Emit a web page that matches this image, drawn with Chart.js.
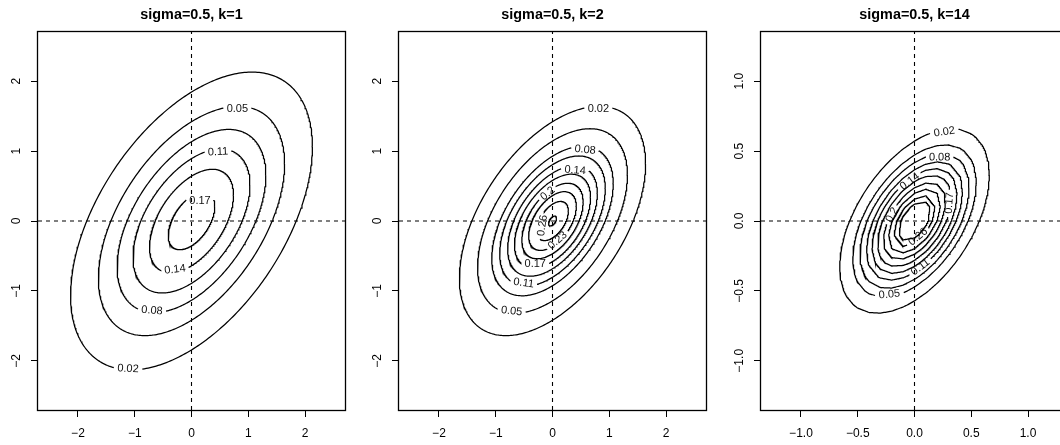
<!DOCTYPE html>
<html><head><meta charset="utf-8">
<script src="https://cdn.jsdelivr.net/npm/chart.js@4.4.0/dist/chart.umd.min.js"></script>
<style>
html,body{margin:0;padding:0;background:#fff;overflow:hidden;}
#wrap{position:relative;width:1060px;height:445px;overflow:hidden;background:#fff;}
.panel{position:absolute;top:0;width:361px;height:445px;}
</style></head><body>
<div id="wrap">
<div class="panel" style="left:0px"><canvas id="c1"></canvas></div>
<div class="panel" style="left:361px"><canvas id="c2"></canvas></div>
<div class="panel" style="left:723px"><canvas id="c3"></canvas></div>
</div>
<script>
// ---------- data ----------
const TITLES = ["sigma=0.5, k=1", "sigma=0.5, k=2", "sigma=0.5, k=14"];
const CORRELATION = 0.5;

const LEVELS_K1 = [0.02, 0.05, 0.08, 0.11, 0.14, 0.17];
const HALFWIDTH_K1 = [2.13, 1.64, 1.31, 1.03, 0.74, 0.41];      // max |x| of each contour
const LABEL_AT_K1 = [238, 60, 237, 62, 245, 60];                // position of label along contour (deg)

const LEVELS_K2 = [0.02, 0.05, 0.08, 0.11, 0.14, 0.17, 0.2, 0.23, 0.26, 0.29];
const HALFWIDTH_K2 = [1.64, 1.32, 1.07, 0.93, 0.79, 0.67, 0.54, 0.42, 0.28, 0.07];
const LABEL_AT_K2 = [60, 236, 56, 235, 57, 240, 100, 283, 170, null];

const LEVELS_K14 = [0.02, 0.05, 0.08, 0.11, 0.14, 0.17, 0.2, 0.23, 0.26, 0.29];
const HALFWIDTH_K14 = [0.66, 0.545, 0.482, 0.423, 0.375, 0.325, 0.274, 0.228, 0.181, 0.14];
const LABEL_AT_K14 = [66, 245, 61, 277, 97, 355, 140, null, 281, null];

const AXIS_LIMITS = [2.704, 2.704, 1.352];
const GRID_STEPS = [0, 0, 0.1];   // 0 = smooth contour, otherwise coarse evaluation grid

const TICKS_K1 = [-2, -1, 0, 1, 2];
const TICK_LABELS_K1 = ["\u22122", "\u22121", "0", "1", "2"];
const TICKS_K14 = [-1, -0.5, 0, 0.5, 1];
const TICK_LABELS_K14 = ["\u22121.0", "\u22120.5", "0.0", "0.5", "1.0"];

// ---------- styling ----------
const FONT_FAMILY = '"Liberation Sans", Arial, Helvetica, sans-serif';
const LABEL_FONT = '11px ' + FONT_FAMILY;
const LABEL_GAP_PAD = 6;
const Y_LABEL_OFFSET = [21, 21, 21];
const LINE_W = 1.25;

const PANELS = [
  {id: 'c1', title: TITLES[0], levels: LEVELS_K1, half: HALFWIDTH_K1, labelAt: LABEL_AT_K1, lim: AXIS_LIMITS[0], step: GRID_STEPS[0], ticks: TICKS_K1, tickLabels: TICK_LABELS_K1, yoff: Y_LABEL_OFFSET[0]},
  {id: 'c2', title: TITLES[1], levels: LEVELS_K2, half: HALFWIDTH_K2, labelAt: LABEL_AT_K2, lim: AXIS_LIMITS[1], step: GRID_STEPS[1], ticks: TICKS_K1, tickLabels: TICK_LABELS_K1, yoff: Y_LABEL_OFFSET[1]},
  {id: 'c3', title: TITLES[2], levels: LEVELS_K14, half: HALFWIDTH_K14, labelAt: LABEL_AT_K14, lim: AXIS_LIMITS[2], step: GRID_STEPS[2], ticks: TICKS_K14, tickLabels: TICK_LABELS_K14, yoff: Y_LABEL_OFFSET[2]}
];

const S = Math.sqrt(1 - CORRELATION * CORRELATION);
function ellipseAt(a, t) {
  return {x: a * Math.cos(t), y: a * (CORRELATION * Math.cos(t) + S * Math.sin(t))};
}
function norm(t) { const tp = 2 * Math.PI; t = t % tp; return t < 0 ? t + tp : t; }

// contour of one level: smooth ellipse, or polygon through crossings with a coarse grid
function contourPoints(a, step) {
  const N = 360, out = [];
  if (!step) {
    for (let i = 0; i <= N; i++) out.push(ellipseAt(a, i * 2 * Math.PI / N));
    return out;
  }
  const phi = Math.atan2(S, CORRELATION);
  let ts = [];
  const kmax = Math.floor(a / step);
  for (let k = -kmax; k <= kmax; k++) {
    const c = k * step;
    if (Math.abs(c) >= a) continue;
    const d = Math.acos(c / a);
    ts.push(norm(d), norm(-d), norm(phi + d), norm(phi - d));
  }
  ts.sort((p, q) => p - q);
  ts = ts.filter((v, i) => i === 0 || v - ts[i - 1] > 1e-6);
  const V = ts.map(t => ellipseAt(a, t));
  const m = ts.length;
  for (let i = 0; i <= N; i++) {
    const t = (i % N) * 2 * Math.PI / N;
    let j = m - 1;
    for (let q = 0; q < m; q++) { if (ts[q] <= t) j = q; }
    if (ts[0] > t) j = m - 1;
    const j1 = (j + 1) % m;
    let t0 = ts[j], t1 = ts[j1], tt = t;
    if (t1 <= t0) t1 += 2 * Math.PI;
    if (tt < t0) tt += 2 * Math.PI;
    const f = (tt - t0) / (t1 - t0);
    out.push({x: V[j].x + f * (V[j1].x - V[j].x), y: V[j].y + f * (V[j1].y - V[j].y)});
  }
  return out;
}

function segColor(ctx) {
  const ds = ctx.chart.data.datasets[ctx.datasetIndex];
  const g = ds && ds._gap;
  if (g && ((ctx.p0DataIndex - g.start + g.n) % g.n) < g.len) return 'rgba(0,0,0,0)';
  return '#000';
}

function makePlugin(p) {
  return {
    id: 'rstyle',
    afterDatasetsUpdate(chart) {
      const ctx = chart.ctx;
      ctx.save();
      ctx.font = LABEL_FONT;
      chart.data.datasets.forEach((ds, di) => {
        ds._gap = null; ds._text = null;
        if (!ds._label) return;
        const meta = chart.getDatasetMeta(di);
        const pts = meta.data;
        const n = pts.length - 1;
        const i0 = Math.round(ds._label.t * n / 360) % n;
        const w = ctx.measureText(ds._label.text).width + LABEL_GAP_PAD;
        let j = 1, A = pts[i0], B = pts[i0];
        for (; j < n / 2; j++) {
          A = pts[(i0 - j + n) % n]; B = pts[(i0 + j) % n];
          if (Math.hypot(B.x - A.x, B.y - A.y) >= w) break;
        }
        ds._gap = {start: (i0 - j + n) % n, len: 2 * j, n: n};
        let ang = Math.atan2(B.y - A.y, B.x - A.x);
        if (ang > Math.PI / 2) ang -= Math.PI;
        if (ang < -Math.PI / 2) ang += Math.PI;
        ds._text = {x: (A.x + B.x) / 2, y: (A.y + B.y) / 2, ang: ang, text: ds._label.text};
        if (meta.dataset) meta.dataset._segments = undefined;
      });
      ctx.restore();
    },
    afterDatasetsDraw(chart) {
      const ctx = chart.ctx;
      ctx.save();
      ctx.font = LABEL_FONT;
      ctx.fillStyle = '#111';
      ctx.textAlign = 'center';
      ctx.textBaseline = 'middle';
      chart.data.datasets.forEach(ds => {
        if (!ds._text) return;
        ctx.save();
        ctx.translate(ds._text.x, ds._text.y);
        ctx.rotate(ds._text.ang);
        ctx.fillText(ds._text.text, 0, 0.5);
        ctx.restore();
      });
      ctx.restore();
    },
    afterDraw(chart) {
      const ctx = chart.ctx, ca = chart.chartArea;
      ctx.save();
      // box
      ctx.strokeStyle = '#000';
      ctx.lineWidth = 1.3;
      ctx.strokeRect(ca.left - 0.5, ca.top - 0.5, ca.right - ca.left + 1, ca.bottom - ca.top + 1);
      // title
      ctx.fillStyle = '#000';
      ctx.font = 'bold 14.4px ' + FONT_FAMILY;
      ctx.textAlign = 'center';
      ctx.textBaseline = 'middle';
      ctx.fillText(p.title, (ca.left + ca.right) / 2, 15);
      // y tick labels (rotated, as in R)
      ctx.font = '12px ' + FONT_FAMILY;
      const ys = chart.scales.y;
      p.ticks.forEach((v, i) => {
        const py = ys.getPixelForValue(v);
        ctx.save();
        ctx.translate(ca.left - p.yoff, py);
        ctx.rotate(-Math.PI / 2);
        ctx.fillText(p.tickLabels[i], 0, 0);
        ctx.restore();
      });
      ctx.restore();
    }
  };
}

function makeChart(p) {
  const datasets = [];
  p.levels.forEach((lev, i) => {
    datasets.push({
      data: contourPoints(p.half[i], p.step),
      borderColor: '#000', borderWidth: LINE_W, pointRadius: 0, pointHoverRadius: 0,
      showLine: true, tension: 0, fill: false, order: 1,
      segment: {borderColor: segColor},
      _label: p.labelAt[i] == null ? null : {t: p.labelAt[i], text: String(lev)}
    });
  });
  const refStyle = {borderColor: '#000', borderWidth: 1.1, borderDash: [4, 4], pointRadius: 0, showLine: true, fill: false, order: 0};
  datasets.push(Object.assign({data: [{x: -p.lim, y: 0}, {x: p.lim, y: 0}]}, refStyle));
  datasets.push(Object.assign({data: [{x: 0, y: -p.lim}, {x: 0, y: p.lim}]}, refStyle));

  const tickFont = {family: FONT_FAMILY, size: 12};
  new Chart(document.getElementById(p.id), {
    type: 'scatter',
    data: {datasets: datasets},
    options: {
      responsive: true, maintainAspectRatio: false, animation: false, events: [],
      layout: {padding: {top: 32, right: 16, left: 0, bottom: 0}},
      plugins: {legend: {display: false}, tooltip: {enabled: false}, title: {display: false}},
      scales: {
        x: {
          type: 'linear', min: -p.lim, max: p.lim,
          afterBuildTicks: s => { s.ticks = p.ticks.map(v => ({value: v})); },
          afterFit: s => { s.height = 35; },
          grid: {display: true, drawOnChartArea: false, drawTicks: true, tickLength: 7, color: '#000', tickColor: '#000', lineWidth: 1},
          border: {display: false},
          ticks: {font: tickFont, color: '#000', padding: 9, maxRotation: 0, minRotation: 0, autoSkip: false,
                  callback: (v, i) => p.tickLabels[i]}
        },
        y: {
          type: 'linear', min: -p.lim, max: p.lim,
          afterBuildTicks: s => { s.ticks = p.ticks.map(v => ({value: v})); },
          afterFit: s => { s.width = 38; },
          grid: {display: true, drawOnChartArea: false, drawTicks: true, tickLength: 7, color: '#000', tickColor: '#000', lineWidth: 1},
          border: {display: false},
          ticks: {display: false}
        }
      }
    },
    plugins: [makePlugin(p)]
  });
}
PANELS.forEach(makeChart);
</script>
</body></html>
